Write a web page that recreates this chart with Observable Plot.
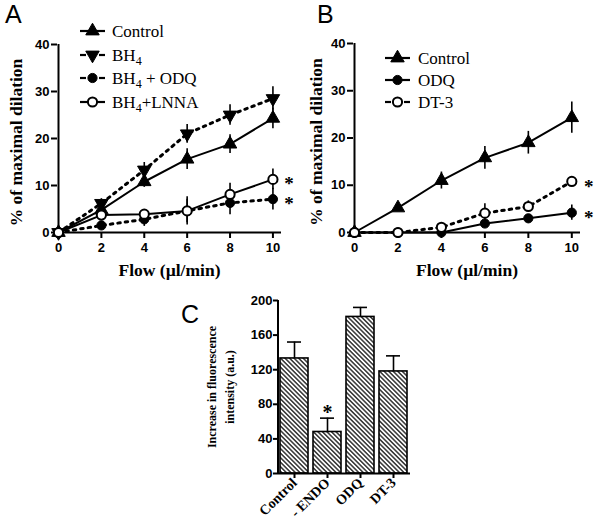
<!DOCTYPE html>
<html><head><meta charset="utf-8">
<script src="https://cdn.jsdelivr.net/npm/d3@7"></script>
<script src="https://cdn.jsdelivr.net/npm/@observablehq/plot@0.6"></script>
<style>
html,body{margin:0;padding:0;background:#fff;}
#fig{position:relative;width:601px;height:529px;overflow:hidden;background:#fff;}
#fig svg{position:absolute;}
</style></head><body><div id="fig"></div>
<script>
// ---------- data ----------
const flow = [0, 2, 4, 6, 8, 10];
const aControl    = [0, 4.8, 10.8, 15.6, 18.8, 24.3];
const aControlErr = [0, 1.0, 1.2, 2.2, 2.0, 2.2];
const aBH4        = [0, 6.2, 13.3, 21.0, 25.0, 28.5];
const aBH4Err     = [0, 1.0, 1.6, 2.0, 2.2, 2.5];
const aBH4ODQ     = [0, 1.5, 2.8, 4.6, 6.3, 7.1];
const aBH4ODQErr  = [0, 0.8, 1.5, 2.5, 2.5, 2.3];
const aBH4LNNA    = [0, 3.7, 3.9, 4.6, 8.1, 11.3];
const aBH4LNNAErr = [0, 1.0, 1.0, 3.0, 2.4, 2.2];
const aLabels = ["Control", "BH4", "BH4 + ODQ", "BH4+LNNA"];
const aStarred = ["BH4 + ODQ", "BH4+LNNA"];

const bControl    = [0, 5.2, 11.0, 15.8, 19.0, 24.3];
const bControlErr = [0, 0.6, 1.8, 2.4, 2.4, 3.3];
const bODQ        = [0, 0, 0, 1.9, 3.0, 4.2];
const bODQErr     = [0, 0, 0, 0.8, 0.8, 1.6];
const bDT3        = [0, 0, 1.1, 4.1, 5.5, 10.8];
const bDT3Err     = [0, 0, 0.5, 2.0, 1.2, 0.8];
const bLabels = ["Control", "ODQ", "DT-3"];
const bStarred = ["ODQ", "DT-3"];

const yTicksAB = [0, 10, 20, 30, 40];
const xLabelAB = "Flow (µl/min)";
const yLabelAB = "% of maximal dilation";

const cCategories = ["Control", "- ENDO", "ODQ", "DT-3"];
const cValues = [133, 48, 181, 118];
const cErrors = [19, 16, 11, 18];
const cStarred = ["- ENDO"];
const yTicksC = [0, 40, 80, 120, 160, 200];
const yLabelC = "Increase in fluorescence\nintensity (a.u.)";

// ---------- styles ----------
const SERIF = '"Liberation Serif","Times New Roman",serif';
const SANS = '"Liberation Sans",Arial,sans-serif';
const triangleDown = {
  draw(context, size) {
    const y = Math.sqrt(size / (Math.sqrt(3) * 3));
    context.moveTo(0, 2 * y);
    context.lineTo(Math.sqrt(3) * y, -y);
    context.lineTo(-Math.sqrt(3) * y, -y);
    context.closePath();
  }
};
const triangleUp = d3.symbolTriangle;
const circle = d3.symbolCircle;

const fig = document.getElementById("fig");

function rows(vals, errs, name) {
  return flow.map((x, i) => ({x, y: vals[i], e: errs[i], name}));
}

const seriesA = [
  {name: aLabels[0], data: rows(aControl, aControlErr, aLabels[0]), symbol: triangleUp, r: 5, open: false, dotted: false, legendDash: false},
  {name: aLabels[1], data: rows(aBH4, aBH4Err, aLabels[1]), symbol: triangleDown, r: 5, open: false, dotted: true, legendDash: true},
  {name: aLabels[2], data: rows(aBH4ODQ, aBH4ODQErr, aLabels[2]), symbol: circle, r: 4.6, open: false, dotted: true, legendDash: true},
  {name: aLabels[3], data: rows(aBH4LNNA, aBH4LNNAErr, aLabels[3]), symbol: circle, r: 4.6, open: true, dotted: false, legendDash: false}
];
const seriesB = [
  {name: bLabels[0], data: rows(bControl, bControlErr, bLabels[0]), symbol: triangleUp, r: 5, open: false, dotted: false, legendDash: false},
  {name: bLabels[1], data: rows(bODQ, bODQErr, bLabels[1]), symbol: circle, r: 4.6, open: false, dotted: false, legendDash: false},
  {name: bLabels[2], data: rows(bDT3, bDT3Err, bLabels[2]), symbol: circle, r: 4.6, open: true, dotted: true, legendDash: true}
];

function linePanel(series, starred, g) {
  const marks = [
    Plot.ruleY([0], {strokeWidth: 2}),
    Plot.ruleX([0], {strokeWidth: 2}),
    Plot.axisY({ticks: yTicksAB, tickSize: 6, tickPadding: 2, strokeWidth: 2, label: null,
      fontSize: 13, fontWeight: "bold", fontFamily: SANS}),
    Plot.axisX({ticks: flow, tickSize: 6, tickPadding: 4, strokeWidth: 2, label: null,
      fontSize: 13, fontWeight: "bold", fontFamily: SANS})
  ];
  for (const s of series) {
    marks.push(Plot.line(s.data, {x: "x", y: "y", stroke: "black",
      strokeWidth: s.dotted ? 3 : 2, strokeDasharray: s.dotted ? "2.5,5" : null}));
  }
  for (const s of series) {
    marks.push(Plot.ruleX(s.data.filter(d => d.e > 0), {x: "x", y1: d => d.y - d.e, y2: d => d.y + d.e, strokeWidth: 1.6}));
  }
  for (const s of series) {
    marks.push(Plot.dot(s.data, {x: "x", y: "y", symbol: s.symbol, r: s.r,
      fill: s.open ? "white" : "black", stroke: "black", strokeWidth: s.open ? 2 : 1}));
  }
  const starRows = series.filter(s => starred.includes(s.name)).map(s => s.data[s.data.length - 1]);
  marks.push(Plot.text(starRows, {x: "x", y: "y", text: () => "*", dx: g.starDx, dy: 5,
    fontSize: 19, fontWeight: "bold", fontFamily: SERIF}));
  marks.push(Plot.text([xLabelAB], {frameAnchor: "bottom", dy: 43, fontSize: 17.5, fontWeight: "bold", fontFamily: SERIF}));
  marks.push(Plot.text([yLabelAB], {frameAnchor: "left", textAnchor: "middle", rotate: -90, dx: g.yLabelDx, dy: 4, fontSize: 17.5, fontWeight: "bold", fontFamily: SERIF}));

  const svg = Plot.plot({
    width: g.width, height: 285,
    marginLeft: g.ml, marginRight: g.width - g.xr, marginTop: g.yTop, marginBottom: 285 - 232,
    x: {type: "linear", domain: [0, 10.4], range: [g.ml + 1, g.xr]},
    y: {type: "linear", domain: [0, 40], range: [232, g.yTop]},
    style: {fontFamily: SANS, fontWeight: "bold", fontSize: "13px", color: "black", background: "transparent", overflow: "visible"},
    marks
  });
  svg.style.left = g.left + "px";
  svg.style.top = "0px";
  fig.appendChild(svg);
}

linePanel(seriesA, aStarred, {left: 0, width: 300, ml: 57, xr: 281, yTop: 44, starDx: 16, yLabelDx: -41});
linePanel(seriesB, bStarred, {left: 300, width: 301, ml: 53, xr: 280, yTop: 43, starDx: 17, yLabelDx: -37});

// ---------- panel C ----------
const cRows = cCategories.map((c, i) => ({cat: c, val: cValues[i], err: cErrors[i]}));
const svgC = Plot.plot({
  width: 290, height: 264,
  marginLeft: 128, marginRight: 30, marginTop: 35, marginBottom: 56,
  x: {type: "band", domain: cCategories, range: [128, 260], paddingInner: 0.14, paddingOuter: 0.03},
  y: {type: "linear", domain: [0, 200], range: [208, 35]},
  style: {fontFamily: SANS, fontWeight: "bold", fontSize: "13px", color: "black", background: "transparent", overflow: "visible"},
  marks: [
    Plot.barY(cRows, {x: "cat", y: "val", fill: "url(#hatchC)", stroke: "black", strokeWidth: 1.6}),
    Plot.ruleX(cRows, {x: "cat", y1: "val", y2: d => d.val + d.err, strokeWidth: 1.6}),
    Plot.tickY(cRows, {x: "cat", y: d => d.val + d.err, strokeWidth: 1.6, insetLeft: 7, insetRight: 7}),
    Plot.text(cRows.filter(d => cStarred.includes(d.cat)), {x: "cat", y: d => d.val + d.err, text: () => "*", dy: -6,
      fontSize: 20, fontWeight: "bold", fontFamily: SERIF}),
    Plot.ruleY([0], {strokeWidth: 2}),
    Plot.axisY({ticks: yTicksC, tickSize: 5, tickPadding: 1, strokeWidth: 2, label: null,
      fontSize: 13, fontWeight: "bold", fontFamily: SANS}),
    Plot.axisX({tickSize: 5, tickPadding: 2, strokeWidth: 2, label: null, tickRotate: -45,
      fontSize: 14, fontWeight: "bold", fontFamily: SERIF}),
    Plot.text([yLabelC], {frameAnchor: "left", textAnchor: "middle", rotate: -90, dx: -59, lineHeight: 1.5, fontSize: 12, fontWeight: "bold", fontFamily: SERIF})
  ]
});
{
  const ys = svgC.scale("y");
  d3.select(svgC).insert("defs", ":first-child").html(
    '<pattern id="hatchC" patternUnits="userSpaceOnUse" width="3.2" height="3.2" patternTransform="rotate(-45)">' +
    '<rect width="3.2" height="3.2" fill="white"/>' +
    '<line x1="0.8" y1="0" x2="0.8" y2="3.2" stroke="#333" stroke-width="1.5"/></pattern>');
  d3.select(svgC).append("line").attr("x1", 128).attr("x2", 128)
    .attr("y1", ys.apply(0) + 1).attr("y2", ys.apply(200)).attr("stroke", "black").attr("stroke-width", 2);
}
svgC.style.left = "150px";
svgC.style.top = "265px";
fig.appendChild(svgC);

// ---------- legends and panel letters ----------
const ov = d3.select(fig).append("svg").attr("width", 601).attr("height", 529)
  .style("left", "0px").style("top", "0px").style("pointer-events", "none");

function addLabel(sel, x, y, label) {
  const t = sel.append("text").attr("x", x).attr("y", y)
    .attr("font-family", SERIF).attr("font-size", 17).attr("fill", "black");
  const parts = label.split("BH4");
  parts.forEach((p, i) => {
    if (i > 0) {
      t.append("tspan").text("BH");
      t.append("tspan").attr("dy", 4).attr("font-size", 12).text("4");
      t.append("tspan").attr("dy", -4).text(p);
    } else if (p) t.append("tspan").text(p);
  });
}
function legend(series, x0, x1, tx, ysPos) {
  series.forEach((s, i) => {
    const y = ysPos[i];
    if (s.legendDash) {
      ov.append("line").attr("x1", x0).attr("x2", x0 + 6).attr("y1", y).attr("y2", y).attr("stroke", "black").attr("stroke-width", 2.2);
      ov.append("line").attr("x1", x1 - 6).attr("x2", x1).attr("y1", y).attr("y2", y).attr("stroke", "black").attr("stroke-width", 2.2);
    } else {
      ov.append("line").attr("x1", x0).attr("x2", x1).attr("y1", y).attr("y2", y).attr("stroke", "black").attr("stroke-width", 2.2);
    }
    ov.append("path").attr("transform", `translate(${(x0 + x1) / 2},${y})`)
      .attr("d", d3.symbol(s.symbol, Math.PI * s.r * s.r)())
      .attr("fill", s.open ? "white" : "black").attr("stroke", "black").attr("stroke-width", s.open ? 2 : 1);
    addLabel(ov, tx, y + 6, s.name);
  });
}
legend(seriesA, 80, 105, 112, [31, 55, 78, 102]);
legend(seriesB, 385, 410, 418, [58, 80, 102]);

const letters = [["A", 5, 23], ["B", 317, 23], ["C", 181, 323]];
for (const [t, x, y] of letters) {
  ov.append("text").attr("x", x).attr("y", y).attr("font-family", SANS).attr("font-size", 25).attr("fill", "black").text(t);
}
</script>
</body></html>
